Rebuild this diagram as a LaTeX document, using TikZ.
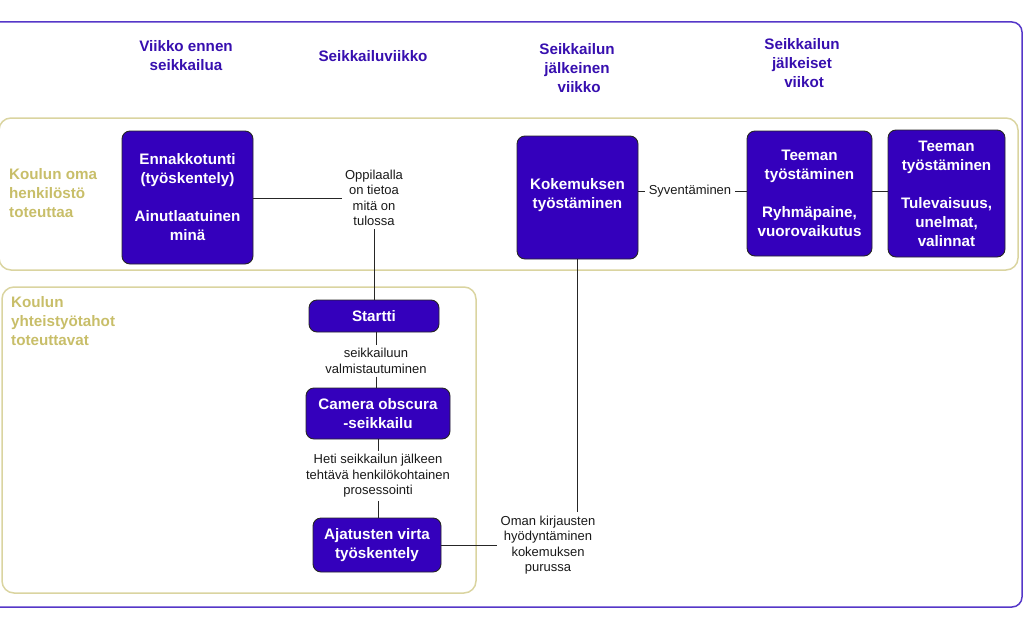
\documentclass[tikz,border=0pt]{standalone}
\usepackage{fontspec}
\setmainfont{Liberation Sans}
\definecolor{boxfill}{RGB}{52,0,188}
\definecolor{hdr}{RGB}{55,15,175}
\definecolor{gold}{RGB}{200,190,105}
\definecolor{goldline}{RGB}{218,212,160}
\definecolor{framec}{RGB}{85,55,200}
\begin{document}
\begin{tikzpicture}[x=1pt,y=-1pt,
 stepbox/.style={draw=black!85, line width=0.9pt, fill=boxfill, rounded corners=8pt, text=white, font=\fontsize{15.2}{19}\selectfont\bfseries, align=center, inner sep=2pt},
 lbl/.style={font=\fontsize{13}{15.5}\selectfont, align=center, inner sep=3pt, text=black!90},
 hd/.style={font=\fontsize{15.2}{19}\selectfont\bfseries, text=hdr, align=center, inner sep=0pt},
 gl/.style={font=\fontsize{15.2}{19}\selectfont\bfseries, text=gold, align=left, anchor=west, inner sep=0pt},
 conn/.style={draw=black!85, line width=0.9pt},
 lane/.style={draw=goldline, line width=1.5pt, rounded corners=12pt}]
\useasboundingbox (0,0) rectangle (1024,634);
% outer frame
\draw[framec, line width=1.5pt, rounded corners=10pt] (-30,22) rectangle (1022,607);
% lanes
\draw[lane] (-1,118) rectangle (1018,270);
\draw[lane] (2,287) rectangle (476,593);
% lane labels
\node[gl] (l1) at (9,193) {Koulun oma\\henkilöstö\\toteuttaa};
\node[gl] (l2) at (11,321) {Koulun\\yhteistyötahot\\toteuttavat};
% headers
\node[hd] (h1) at (186,56) {Viikko ennen\\seikkailua};
\node[hd] (h2) at (373,56) {Seikkailuviikko};
\node[hd] (h3) at (577,68) {Seikkailun\\jälkeinen\\\ viikko};
\node[hd] (h4) at (802,63) {Seikkailun\\jälkeiset\\\ viikot};
% boxes
\node[stepbox, minimum width=131pt, minimum height=133pt] (enn) at (187.5,197.5) {Ennakkotunti\\(työskentely)\\[19pt]Ainutlaatuinen\\minä};
\node[stepbox, minimum width=121pt, minimum height=123pt] (kok) at (577.5,197.5) {};
\node[font=\fontsize{15.2}{19}\selectfont\bfseries, text=white, align=center] (koktxt) at (577.5,195.5) {Kokemuksen\\työstäminen};
\node[stepbox, minimum width=125pt, minimum height=125pt] (tee1) at (809.5,193.5) {Teeman\\työstäminen\\[19pt]Ryhmäpaine,\\vuorovaikutus};
\node[stepbox, minimum width=117pt, minimum height=127pt] (tee2) at (946.5,193.5) {Teeman\\työstäminen\\[19pt]Tulevaisuus,\\unelmat,\\valinnat};
\node[stepbox, minimum width=130pt, minimum height=32pt] (start) at (374,316) {Startti};
\node[stepbox, minimum width=144pt, minimum height=51pt] (cam) at (378,413.5) {Camera obscura\\-seikkailu};
\node[stepbox, minimum width=128pt, minimum height=54pt] (ajat) at (377,545) {Ajatusten virta\\työskentely};
% labels
\node[lbl] (opp) at (374,198) {Oppilaalla\\on tietoa\\mitä on\\tulossa};
\node[lbl] (seik) at (376,361) {seikkailuun\\valmistautuminen};
\node[lbl] (heti) at (378,476) {Heti seikkailun jälkeen\\tehtävä henkilökohtainen\\prosessointi};
\node[lbl] (oman) at (548,545) {Oman kirjausten\\hyödyntäminen\\kokemuksen\\purussa};
\node[lbl, inner xsep=4pt] (syv) at (690,191) {Syventäminen};
% connectors
\draw[conn] (enn.east |- opp.west) -- (opp.west);
\draw[conn] (opp.south) -- (start.north);
\draw[conn] (seik.north |- start.south) -- (seik.north);
\draw[conn] (seik.south) -- (seik.south |- cam.north);
\draw[conn] (cam.south) -- (heti.north);
\draw[conn] (heti.south) -- (heti.south |- ajat.north);
\draw[conn] (ajat.east) -- (oman.west);
\draw[conn] (kok.south) -- (kok.south |- oman.north);
\draw[conn] (kok.east |- syv.west) -- (syv.west);
\draw[conn] (syv.east) -- (tee1.west |- syv.east);
\draw[conn] (tee1.east |- syv.east) -- (tee2.west |- syv.east);
\end{tikzpicture}
\end{document}
